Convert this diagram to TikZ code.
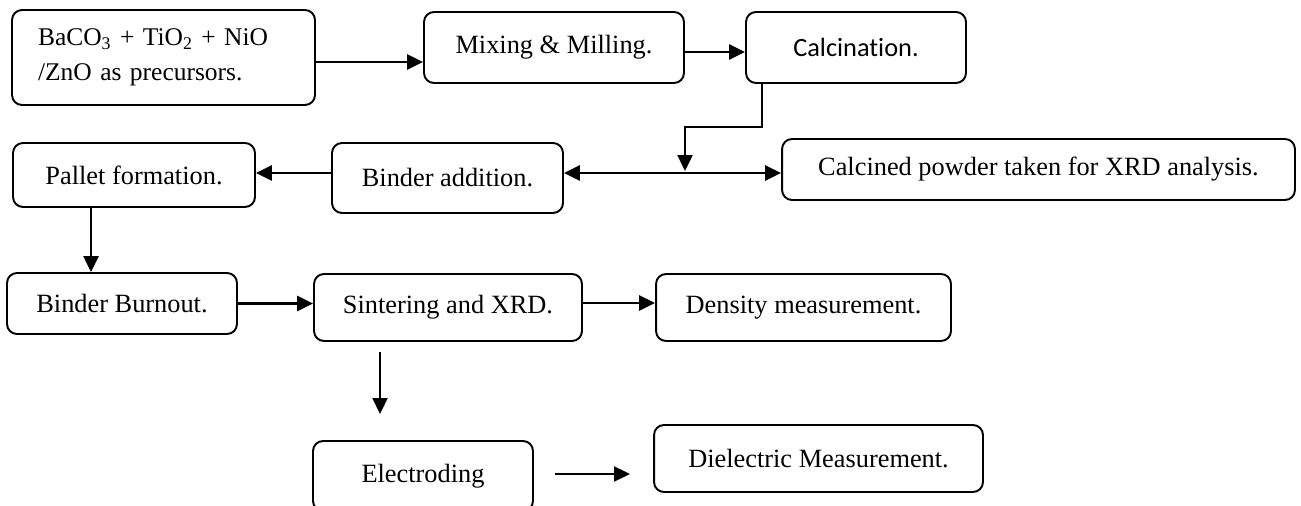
\documentclass[tikz,border=0pt]{standalone}
\usepackage{fontspec}
\setmainfont{Liberation Serif}
\newfontfamily\calibrifont[Ligatures=NoCommon]{Carlito}
\usetikzlibrary{arrows.meta}

\begin{document}
\begin{tikzpicture}[
  x=0.02cm, y=-0.02cm,
  font=\fontsize{15}{20}\selectfont,
  box/.style={rectangle, draw=black, line width=1.1pt, rounded corners=0.2cm, align=center, inner sep=0pt},
  arrow/.style={line width=1.4pt, -{Triangle[length=0.32cm, width=0.3cm]}}
]
\useasboundingbox (0,0) rectangle (1301,506);

\node[box, minimum width=6.06cm, minimum height=1.9cm, text width=5.02cm, inner xsep=0.52cm, align=left, font=\fontsize{14.5}{20}\selectfont] (pre) at (163.5,57.5) {BaCO\textsubscript{3} + TiO\textsubscript{2} + NiO\\/ZnO as precursors.};
\node[box, minimum width=5.2cm, minimum height=1.42cm] (mix) at (554,47.5) {Mixing \& Milling.};
\node[box, minimum width=4.4cm, minimum height=1.42cm, font=\calibrifont\fontsize{15}{18}\selectfont] (calc) at (856,47.5) {Calcination.};

\node[box, minimum width=4.84cm, minimum height=1.28cm] (pallet) at (134,175) {Pallet formation.};
\node[box, minimum width=4.62cm, minimum height=1.4cm] (binder) at (447.5,178) {Binder addition.};
\node[box, minimum width=10.26cm, minimum height=1.22cm] (powder) at (1038.5,169.5) {Calcined powder taken for XRD analysis.};

\node[box, minimum width=4.6cm, minimum height=1.22cm] (burnout) at (122,303.5) {Binder Burnout.};
\node[box, minimum width=5.36cm, minimum height=1.34cm] (sinter) at (448,307.5) {Sintering and XRD.};
\node[box, minimum width=5.9cm, minimum height=1.34cm] (density) at (803.5,307.5) {Density measurement.};

\node[box, minimum width=4.4cm, minimum height=1.4cm] (electrode) at (423,476) {Electroding};
\node[box, minimum width=6.58cm, minimum height=1.34cm] (dielec) at (818.5,458.5) {Dielectric Measurement.};

\coordinate (bend) at (685,127);
\coordinate (split) at (685,173);

\draw[arrow] ([yshift=-0.09cm]pre.east) -- ([yshift=-0.09cm]pre.east -| mix.west);
\draw[arrow] ([yshift=-0.09cm]mix.east) -- ([yshift=-0.09cm]mix.east -| calc.west);
\draw[arrow] ([xshift=0.34cm]calc.south west) |- (bend) -- ([yshift=0.04cm]split);
\draw[arrow] (split) -- (split -| binder.east);
\draw[arrow] (split) -- (split -| powder.west);
\draw[arrow] (binder.west |- split) -- (pallet.east |- split);
\draw[arrow] ([xshift=-0.86cm]pallet.south) -- ([xshift=-0.86cm]pallet.south |- burnout.north);
\draw[arrow] (burnout.east) -- (burnout.east -| sinter.west);
\draw[arrow] ([yshift=0.09cm]sinter.east) -- ([yshift=0.09cm]sinter.east -| density.west);
\draw[arrow, line width=1.1pt] ([xshift=-1.36cm, yshift=-0.2cm]sinter.south) -- ([xshift=-1.36cm, yshift=0.52cm]sinter.south |- electrode.north);
\draw[arrow, line width=1.1pt] ([xshift=0.42cm, yshift=0.04cm]electrode.east) -- ([xshift=-0.46cm, yshift=0.04cm]electrode.east -| dielec.west);
\end{tikzpicture}
\end{document}
